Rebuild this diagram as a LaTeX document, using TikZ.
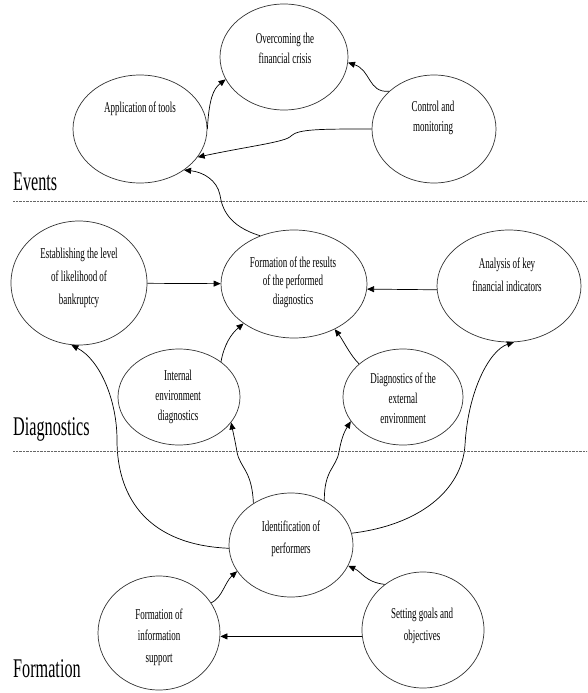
\documentclass[tikz,border=0pt]{standalone}
\usepackage{fontspec}
\setmainfont{Liberation Serif}[FakeStretch=0.6]
\usetikzlibrary{shapes.geometric,arrows.meta}

\begin{document}
\begin{tikzpicture}[x=1pt,y=-1pt,
  bub/.style={ellipse,draw=black!80,line width=0.7pt,inner sep=0pt},
  txt/.style={align=center,font=\fontsize{15}{20}\selectfont,inner sep=0pt},
  sect/.style={anchor=base west,font=\fontsize{27}{30}\selectfont,inner sep=0pt},
  arr/.style={-{Triangle[length=7pt,width=6pt]},line width=0.7pt},
  sepline/.style={line width=0.8pt,black!60,dash pattern=on 0.8pt off 0.6pt}]
  \useasboundingbox (0,0) rectangle (587,693);
  \node[bub,minimum width=128pt,minimum height=106pt] (ovc) at (284,57){};
  \node[bub,minimum width=134pt,minimum height=108pt] (app) at (140,129){};
  \node[bub,minimum width=124pt,minimum height=108pt] (ctrl) at (434,129){};
  \node[bub,minimum width=146pt,minimum height=108pt] (res) at (294,284){};
  \node[bub,minimum width=136pt,minimum height=124pt] (est) at (79,283){};
  \node[bub,minimum width=144pt,minimum height=112pt] (ana) at (509,286){};
  \node[bub,minimum width=122pt,minimum height=96pt] (intd) at (179,397){};
  \node[bub,minimum width=120pt,minimum height=96pt] (extd) at (403,397){};
  \node[bub,minimum width=124pt,minimum height=104pt] (ident) at (291,545){};
  \node[bub,minimum width=122pt,minimum height=114pt] (finfo) at (159,633){};
  \node[bub,minimum width=122pt,minimum height=116pt] (goals) at (423,630){};

  \node[txt] (ovc-t) at (285,48){Overcoming the\\financial crisis};
  \node[txt] (app-t) at (140,109){Application of tools};
  \node[txt] (ctrl-t) at (433,118){Control and\\monitoring};
  \node[txt,font=\fontsize{15}{18.5}\selectfont] (res-t) at (293,282){Formation of the results\\of the performed\\diagnostics};
  \node[txt,font=\fontsize{15}{23}\selectfont] (est-t) at (79,278){Establishing the level\\of likelihood of\\bankruptcy};
  \node[txt,font=\fontsize{15}{23}\selectfont] (ana-t) at (507,275){Analysis of key\\financial indicators};
  \node[txt] (intd-t) at (178,397){Internal\\environment\\diagnostics};
  \node[txt] (extd-t) at (403,398){Diagnostics of the\\external\\environment};
  \node[txt,font=\fontsize{15}{22}\selectfont] (ident-t) at (291,539){Identification of\\performers};
  \node[txt,font=\fontsize{15}{21.5}\selectfont] (finfo-t) at (159,637){Formation of\\information\\support};
  \node[txt,font=\fontsize{15}{22}\selectfont] (goals-t) at (422,626){Setting goals and\\objectives};

  \draw[arr] (app.0) .. controls (209,100) and (213,89) .. (ovc.201);
  \draw[arr] (ctrl.140) .. controls (368,93) and (371,70) .. (ovc.-5);
  \draw[arr] (ctrl.180) .. controls (320,129) and (298,129) .. (291,136) .. controls (286,142) and (250,146) .. (app.-26);
  \draw[arr] (res.125) .. controls (228,226) and (222,208) .. (220,195) .. controls (217,180) and (203,172) .. (app.-43);
  \draw[arr] (est) -- (res);
  \draw[arr] (ana.183) -- (res.-4);
  \draw[arr] (intd.40) .. controls (224,345) and (231,334) .. (res.-142);
  \draw[arr] (extd.143) .. controls (350,355) and (343,340) .. (res.-48);
  \draw[arr] (ident.132) .. controls (252,470) and (240,468) .. (237,452) .. controls (235,440) and (233,432) .. (intd.-26);
  \draw[arr] (ident.53) .. controls (324,470) and (336,468) .. (339,452) .. controls (341,440) and (344,432) .. (extd.-155);
  \draw[arr] (ident.183) .. controls (150,545) and (117,500) .. (117,440) .. controls (117,400) and (100,360) .. (est.-97);
  \draw[arr] (ident.11) .. controls (420,525) and (462,490) .. (465,445) .. controls (468,390) and (490,350) .. (ana.-85);
  \draw[arr] (finfo.30) .. controls (222,598) and (225,582) .. (ident.-154);
  \draw[arr] (goals.130) .. controls (365,582) and (362,572) .. (ident.-20);
  \draw[arr] (goals.186) -- (goals.186 -| finfo.east);

  \draw[sepline] (13,201) -- (587,201);
  \draw[sepline] (13,451) -- (587,451);
  \node[sect] (ev) at (13,190){Events};
  \node[sect] (dg) at (13,435){Diagnostics};
  \node[sect] (fm) at (13,677){Formation};
\end{tikzpicture}
\end{document}
